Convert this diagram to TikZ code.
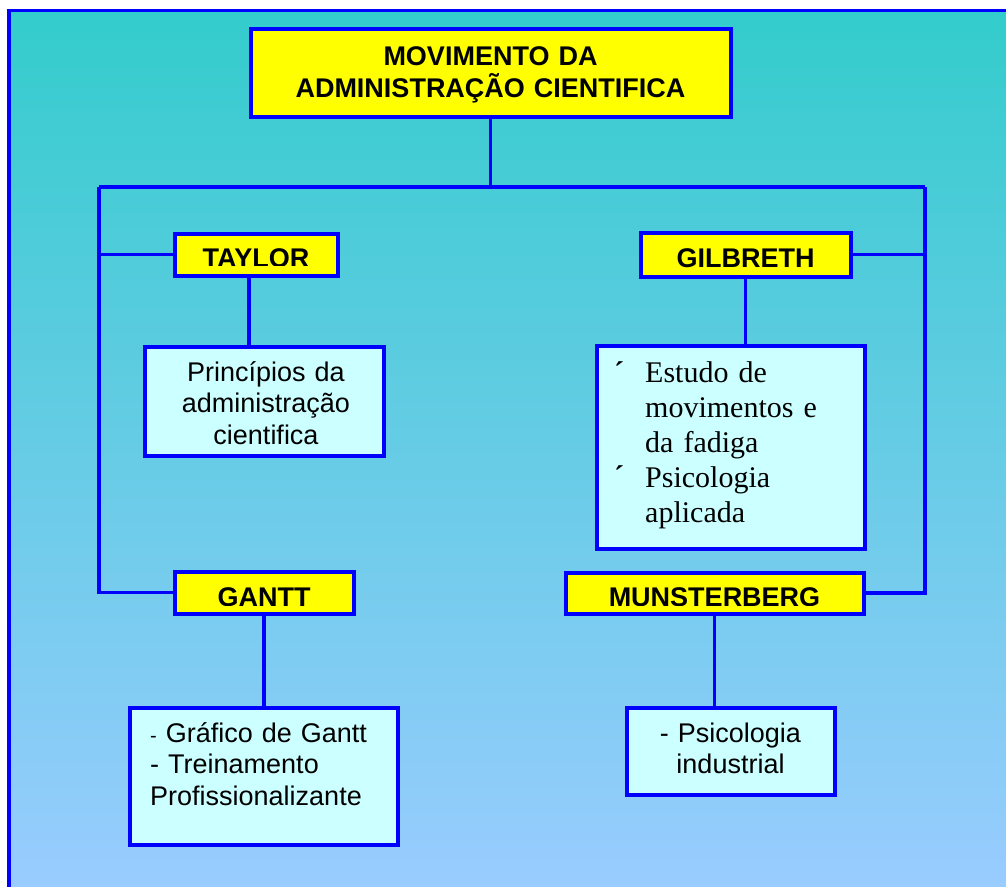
\documentclass[tikz,border=0pt]{standalone}
\usepackage{fontspec}
\setmainfont{Liberation Sans}
\newfontfamily\tnr{Liberation Serif}
\definecolor{bgtop}{HTML}{33CCCC}
\definecolor{bgbot}{HTML}{99CCFF}
\definecolor{lineblue}{HTML}{0000FF}
\definecolor{boxyellow}{HTML}{FFFF00}
\definecolor{boxcyan}{HTML}{CCFFFF}
\begin{document}
\begin{tikzpicture}[x={(1pt,0pt)},y={(0pt,-1pt)},
  conn/.style={draw=lineblue, line width=3.8pt},
  headbox/.style={draw=lineblue, line width=4pt, fill=boxyellow, inner sep=0pt},
  descbox/.style={draw=lineblue, line width=4pt, fill=boxcyan, inner sep=0pt},
  headtext/.style={font=\fontsize{27}{32}\selectfont\bfseries, inner sep=0pt, anchor=base},
  bodytext/.style={font=\fontsize{27}{31.5}\selectfont, inner sep=0pt, anchor=base},
  sertext/.style={font=\tnr\fontsize{30}{35}\selectfont, inner sep=0pt, anchor=base west},
]
\useasboundingbox (0,0) rectangle (1006,886);
\fill[white] (0,0) rectangle (1006,886);
\begin{scope}
\clip (0,0) rectangle (1006,886);
\shade[top color=bgtop, bottom color=bgbot] (9,10.5) rectangle (1006,886);
\draw[draw=lineblue, line width=3.8pt] (9,890) -- (9,10.5) -- (1010,10.5);
\end{scope}

% boxes
\node[headbox, minimum width=480, minimum height=88] (title) at (490.5,72.5) {};
\node[headbox, minimum width=163, minimum height=42] (taylor) at (256,254.5) {};
\node[headbox, minimum width=210, minimum height=44] (gilbreth) at (745.5,254.5) {};
\node[headbox, minimum width=179, minimum height=42] (gantt) at (264,592.5) {};
\node[headbox, minimum width=298, minimum height=41] (munster) at (714.5,593) {};
\node[descbox, minimum width=239, minimum height=109] (tdesc) at (264,401) {};
\node[descbox, minimum width=268, minimum height=203] (gdesc) at (730.5,447) {};
\node[descbox, minimum width=268, minimum height=137] (gadesc) at (263.5,776) {};
\node[descbox, minimum width=208, minimum height=87] (mdesc) at (730.5,751) {};

% connectors
\coordinate (tl) at (99,187);
\coordinate (tr) at (925,187);
\draw[conn] (title.south) -- (title.south |- tl);
\draw[conn] (tl) -- (tr);
\draw[conn] (tl) -- (tl |- gantt.west) -- (gantt.west);
\draw[conn] (tr) -- (tr |- munster.east) -- (munster.east);
\draw[conn] (tl |- taylor.west) -- (taylor.west);
\draw[conn] (gilbreth.east) -- (tr |- gilbreth.east);
\draw[conn] ([xshift=-7pt]taylor.south) -- ([xshift=-7pt]taylor.south |- tdesc.north);
\draw[conn] (gilbreth.south) -- (gilbreth.south |- gdesc.north);
\draw[conn] (gantt.south) -- (gantt.south |- gadesc.north);
\draw[conn] (munster.south) -- (munster.south |- mdesc.north);

% texts
\node[headtext, text width=480, align=center] (titletext) at (490.5,65) {MOVIMENTO DA\\ADMINISTRAÇÃO CIENTIFICA};
\begin{scope}
\clip (173,232) rectangle (339,265);
\node[headtext] (taylortext) at (256,267.5) {TAYLOR};
\end{scope}
\begin{scope}
\clip (639,231) rectangle (852,268);
\node[headtext] (gilbrethtext) at (745.5,267) {GILBRETH};
\end{scope}
\begin{scope}
\clip (173,570) rectangle (355,605);
\node[headtext] (ganttext) at (264,606.5) {GANTT};
\end{scope}
\begin{scope}
\clip (564,571) rectangle (865,605);
\node[headtext] (munstertext) at (714.5,606.5) {MUNSTERBERG};
\end{scope}

\node[bodytext, text width=235, align=center] (tdesctext) at (266,381) {Princípios da\\administração\\cientifica};
\node[sertext, text width=215, align=left] (gdesctext) at (645,382) {Estudo de\\movimentos e\\da fadiga\\Psicologia\\aplicada};
\node[sertext] (bullet1) at (614,382) {\bfseries ´};
\node[sertext] (bullet2) at (614,486) {\bfseries ´};
\node[bodytext, anchor=base west, text width=245, align=left] (gadesctext) at (150,742) {{\fontsize{20}{20}\selectfont -} Gráfico de Gantt\\- Treinamento\\Profissionalizante};
\node[bodytext, text width=205, align=center] (mdesctext) at (730.5,742) {- Psicologia\\industrial};
\end{tikzpicture}
\end{document}
